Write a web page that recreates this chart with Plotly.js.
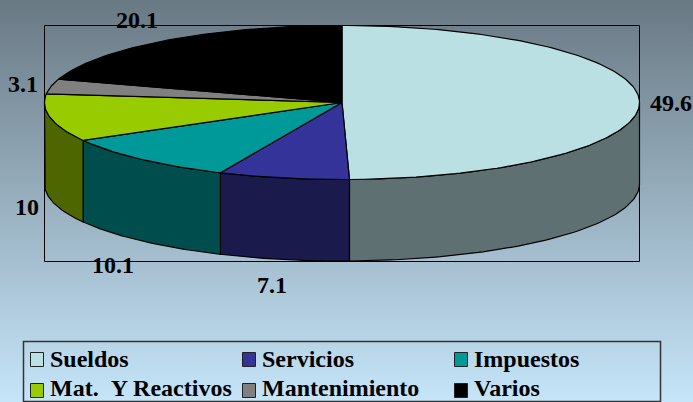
<!DOCTYPE html>
<html><head><meta charset="utf-8">
<script src="https://cdn.plot.ly/plotly-3.0.1.min.js"></script>
<style>
html,body{margin:0;padding:0;width:693px;height:402px;overflow:hidden;background:linear-gradient(180deg,#697984 0%,#c6e5f9 100%);}
#chart{width:693px;height:402px;}
</style></head><body><div id="chart"></div>
<script>
var categories = ["Sueldos","Servicios","Impuestos","Mat.\u00a0\u00a0Y Reactivos","Mantenimiento","Varios"];
var values = [49.6,7.1,10.1,10,3.1,20.1];
var valueLabels = ["49.6","7.1","10.1","10","3.1","20.1"];
var topColors = ["#BBE0E3","#333399","#009999","#99CC00","#808080","#000000"];
var sideColors = ["#5E7072","#1A1A4D","#004D4D","#4D6600","#404040","#000000"];
var labelX = [671,272,113,27,23,137];
var labelY = [103,285,265,207,84,20];
var legendCol = [30,242,454];
var legendSwatchRow = [359.5,390.5];
var legendTextRow = [359,388.4];

var cx=342, cy=102.5, rx=297.5, ry=77, depth=81.5;
var total = values.reduce(function(a,b){return a+b;},0);
function px(d){return cx+rx*Math.sin(d*Math.PI/180);}
function py(d){return cy-ry*Math.cos(d*Math.PI/180);}
function arc(a,b){var o=[];var n=Math.max(2,Math.ceil(Math.abs(b-a)));for(var i=0;i<=n;i++){o.push(a+(b-a)*i/n);}return o;}

var sides=[],tops=[],start=0;
values.forEach(function(v,i){
  var end=start+v/total*360;
  var a=Math.max(start,90),b=Math.min(end,270);
  if(b>a){
    var f=arc(a,b),r=f.slice().reverse();
    sides.push({type:"scatter",mode:"lines",fill:"toself",fillcolor:sideColors[i],
      line:{color:"#000",width:1.2},hoverinfo:"skip",showlegend:false,
      x:f.map(px).concat(r.map(px)).concat([px(a)]),
      y:f.map(function(d){return py(d);}).concat(r.map(function(d){return py(d)+depth;})).concat([py(a)])});
  }
  var t=arc(start,end);
  tops.push({type:"scatter",mode:"lines",fill:"toself",fillcolor:topColors[i],name:categories[i],
    line:{color:"#000",width:1.2},hoverinfo:"name",showlegend:false,
    x:[cx].concat(t.map(px)).concat([cx]),y:[cy].concat(t.map(py)).concat([cy])});
  start=end;
});

var font={family:"'Liberation Serif','Times New Roman',serif",size:24,color:"#000"};
var annotations=valueLabels.map(function(s,i){
  return {xref:"x",yref:"y",x:labelX[i],y:labelY[i],text:"<b>"+s+"</b>",showarrow:false,font:font,xanchor:"center",yanchor:"middle"};
});
var shapes=[{type:"rect",xref:"x",yref:"y",x0:44.5,x1:639.5,y0:25.5,y1:261.5,line:{color:"#000",width:1},layer:"below"},
  {type:"rect",xref:"x",yref:"y",x0:23.5,x1:660.5,y0:341.5,y1:401.5,line:{color:"#333",width:1.5},layer:"below"}];
categories.forEach(function(c,i){
  var r=Math.floor(i/3),lx=legendCol[i%3],sy=legendSwatchRow[r];
  shapes.push({type:"rect",xref:"x",yref:"y",x0:lx+0.5,x1:lx+13.5,y0:sy-7,y1:sy+7,fillcolor:topColors[i],line:{color:"#222",width:1}});
  annotations.push({xref:"x",yref:"y",x:lx+18,y:legendTextRow[r],text:"<b>"+c+"</b>",showarrow:false,xanchor:"left",yanchor:"middle",
    font:font});
});

var hidden={visible:false,fixedrange:true};
Plotly.newPlot("chart",sides.concat(tops),{
  width:693,height:402,margin:{l:0,r:0,t:0,b:0},
  paper_bgcolor:"rgba(0,0,0,0)",plot_bgcolor:"rgba(0,0,0,0)",showlegend:false,
  xaxis:Object.assign({range:[0,693]},hidden),
  yaxis:Object.assign({range:[402,0]},hidden),
  annotations:annotations,shapes:shapes
},{displayModeBar:false,staticPlot:true});
</script></body></html>
